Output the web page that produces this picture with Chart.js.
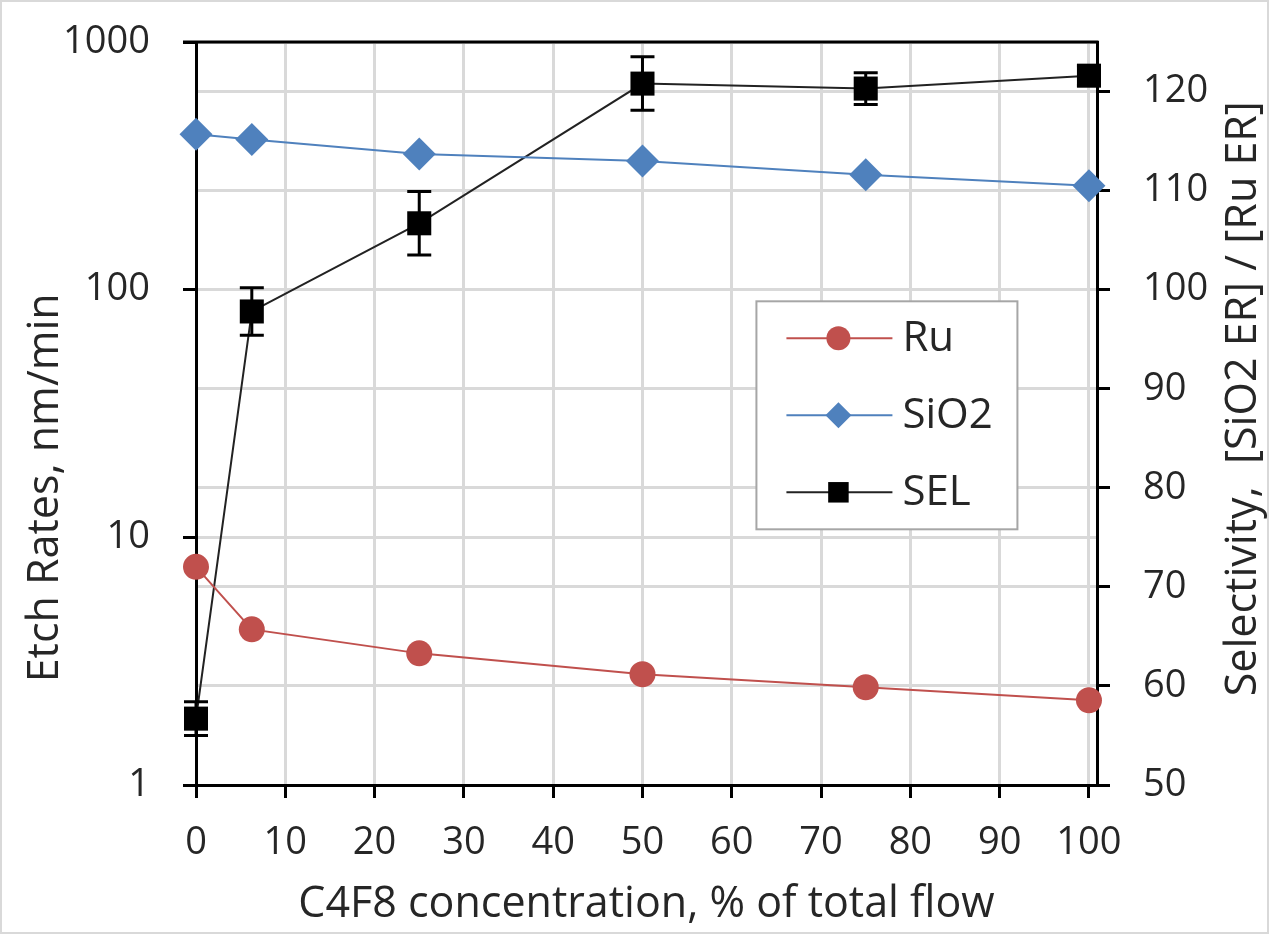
<!DOCTYPE html>
<html>
<head>
<meta charset="utf-8">
<script src="https://cdn.jsdelivr.net/npm/chart.js@4.4.1/dist/chart.umd.min.js"></script>
<style>
  html, body { margin: 0; padding: 0; background: #fff; }
  canvas { display: block; }
</style>
</head>
<body>
<canvas id="myChart" width="1269" height="934"></canvas>
<script>
const concentrations = [0, 6.25, 25, 50, 75, 100];
const ruRates = [7.6, 4.25, 3.4, 2.8, 2.48, 2.2];
const sio2Rates = [424, 404, 353, 331, 291, 263];
const selectivity = [56.7, 97.8, 106.7, 120.8, 120.3, 121.6];
const selError = [1.7, 2.4, 3.2, 2.7, 1.6, 1.0];

const xTicks = [0, 10, 20, 30, 40, 50, 60, 70, 80, 90, 100];
const leftTicks = [1, 10, 100, 1000];
const rightTicks = [50, 60, 70, 80, 90, 100, 110, 120];

const textColor = '#262626';
const gridColor = '#d9d9d9';
const FONT = "'Open Sans', sans-serif";

Chart.defaults.font.family = FONT;
Chart.defaults.font.size = 38;
Chart.defaults.color = textColor;

const toPoints = (xs, ys) => xs.map((x, i) => ({ x: x, y: ys[i] }));

const gridOpts = () => ({
    display: true,
    color: gridColor,
    lineWidth: 3,
    tickColor: '#000',
    tickWidth: 3,
    tickLength: 13,
});

// fixed axis box sizes so the plot area sits where the original one does
const fitY = (width) => (s) => {
    s.width = width;
    s.paddingTop = 0;
    s.paddingBottom = 0;
};

// error bars for the selectivity series
const errorBars = {
    id: 'errorBars',
    afterDatasetsDraw(chart) {
        const ctx = chart.ctx;
        const xs = chart.scales.x, ys = chart.scales.y2;
        ctx.save();
        ctx.strokeStyle = '#000';
        ctx.lineWidth = 3;
        concentrations.forEach((c, i) => {
            const px = xs.getPixelForValue(c);
            const top = ys.getPixelForValue(selectivity[i] + selError[i]);
            const bot = ys.getPixelForValue(selectivity[i] - selError[i]);
            ctx.beginPath();
            ctx.moveTo(px, top); ctx.lineTo(px, bot);
            ctx.moveTo(px - 12, top); ctx.lineTo(px + 12, top);
            ctx.moveTo(px - 12, bot); ctx.lineTo(px + 12, bot);
            ctx.stroke();
        });
        ctx.restore();
    }
};

const drawVerticalTitle = (ctx, text, x, y) => {
    ctx.save();
    ctx.fillStyle = textColor;
    ctx.font = `43px ${FONT}`;
    ctx.textAlign = 'center';
    ctx.textBaseline = 'middle';
    ctx.translate(x, y);
    ctx.rotate(-Math.PI / 2);
    ctx.fillText(text, 0, 0);
    ctx.restore();
};

// page frame, top frame line, axis titles, legend box
const decorations = {
    id: 'decorations',
    beforeDraw(chart) {
        const ctx = chart.ctx;
        ctx.save();
        ctx.fillStyle = '#fff';
        ctx.fillRect(0, 0, chart.width, chart.height);
        ctx.strokeStyle = '#d9d9d9';
        ctx.lineWidth = 2;
        ctx.strokeRect(1, 1, chart.width - 2, chart.height - 2);
        ctx.restore();
    },
    beforeDatasetsDraw(chart) {
        const { ctx, chartArea } = chart;
        ctx.save();
        ctx.strokeStyle = '#000';
        ctx.lineWidth = 3;
        ctx.beginPath();
        ctx.moveTo(chartArea.left - 13, chartArea.top);
        ctx.lineTo(chartArea.right + 1.5, chartArea.top);
        ctx.stroke();
        ctx.restore();
    },
    afterDraw(chart) {
        const { ctx, chartArea } = chart;
        const w = chartArea.right - chartArea.left, h = chartArea.bottom - chartArea.top;
        drawVerticalTitle(ctx, 'Etch Rates, nm/min', chart.scales.y.left + 46, chartArea.top + h * 0.6);
        drawVerticalTitle(ctx, 'Selectivity,  [SiO2 ER] / [Ru ER]', chart.scales.y2.right - 25, chartArea.top + h * 0.48);

        // legend
        const bx = chartArea.left + w * 0.622, by = chartArea.top + h * 0.349;
        const bw = 261, bh = 228;
        ctx.save();
        ctx.fillStyle = '#fff';
        ctx.fillRect(bx, by, bw, bh);
        ctx.strokeStyle = '#a6a6a6';
        ctx.lineWidth = 2;
        ctx.strokeRect(bx, by, bw, bh);
        chart.data.datasets.forEach((ds, i) => {
            const cy = by + 37 + i * 77;
            ctx.strokeStyle = ds.borderColor;
            ctx.lineWidth = 2;
            ctx.beginPath();
            ctx.moveTo(bx + 30, cy); ctx.lineTo(bx + 136, cy);
            ctx.stroke();
            ctx.fillStyle = ds.pointBackgroundColor;
            ctx.strokeStyle = ds.pointBackgroundColor;
            Chart.helpers.drawPoint(ctx, {
                pointStyle: ds.pointStyle,
                radius: ds.legendRadius,
                rotation: 0,
                borderWidth: 0,
            }, bx + 82, cy);
            ctx.fillStyle = textColor;
            ctx.font = `42px ${FONT}`;
            ctx.textAlign = 'left';
            ctx.textBaseline = 'middle';
            ctx.fillText(ds.label, bx + 146, cy + 1);
        });
        ctx.restore();
    }
};

const ctx = document.getElementById('myChart').getContext('2d');
const chart = new Chart(ctx, {
    type: 'line',
    data: {
        datasets: [
            {
                label: 'Ru',
                data: toPoints(concentrations, ruRates),
                yAxisID: 'y',
                borderColor: '#c0504d',
                borderWidth: 2,
                pointStyle: 'circle',
                pointRadius: 13,
                legendRadius: 12,
                pointBackgroundColor: '#c0504d',
                pointBorderWidth: 0,
                clip: false,
            },
            {
                label: 'SiO2',
                data: toPoints(concentrations, sio2Rates),
                yAxisID: 'y',
                borderColor: '#4f81bd',
                borderWidth: 2,
                pointStyle: 'rectRot',
                pointRadius: 16.5,
                legendRadius: 13,
                pointBackgroundColor: '#4f81bd',
                pointBorderWidth: 0,
                clip: false,
            },
            {
                label: 'SEL',
                data: toPoints(concentrations, selectivity),
                yAxisID: 'y2',
                borderColor: '#222',
                borderWidth: 2,
                pointStyle: 'rect',
                pointRadius: 17,
                legendRadius: 14.5,
                pointBackgroundColor: '#000',
                pointBorderWidth: 0,
                clip: false,
            },
        ]
    },
    options: {
        responsive: false,
        animation: false,
        layout: { padding: { top: 42, left: 0, right: 0, bottom: 0 } },
        plugins: {
            legend: { display: false },
            tooltip: { enabled: false },
        },
        scales: {
            x: {
                type: 'linear',
                min: 0,
                max: 100.9,
                afterBuildTicks: (s) => { s.ticks = xTicks.map(v => ({ value: v })); },
                afterFit: (s) => { s.height = 149; s.paddingLeft = 0; s.paddingRight = 0; },
                grid: gridOpts(),
                border: { display: true, color: '#000', width: 3 },
                ticks: { padding: 22, color: textColor, maxRotation: 0 },
                title: { display: true, text: 'C4F8 concentration, % of total flow', color: textColor, font: { size: 43 }, padding: { top: 0, bottom: 3 } },
            },
            y: {
                type: 'logarithmic',
                position: 'left',
                min: 1,
                max: 1000,
                afterBuildTicks: (s) => { s.ticks = leftTicks.map(v => ({ value: v, major: true })); },
                afterFit: fitY(196),
                grid: gridOpts(),
                border: { display: true, color: '#000', width: 3 },
                ticks: { padding: 33, color: textColor, callback: (v) => String(v) },
            },
            y2: {
                type: 'linear',
                position: 'right',
                min: 50,
                max: 125,
                afterBuildTicks: (s) => { s.ticks = rightTicks.map(v => ({ value: v })); },
                afterFit: fitY(172),
                grid: gridOpts(),
                border: { display: true, color: '#000', width: 3 },
                ticks: { padding: 33, color: textColor },
            },
        }
    },
    plugins: [errorBars, decorations],
});
</script>
</body>
</html>
